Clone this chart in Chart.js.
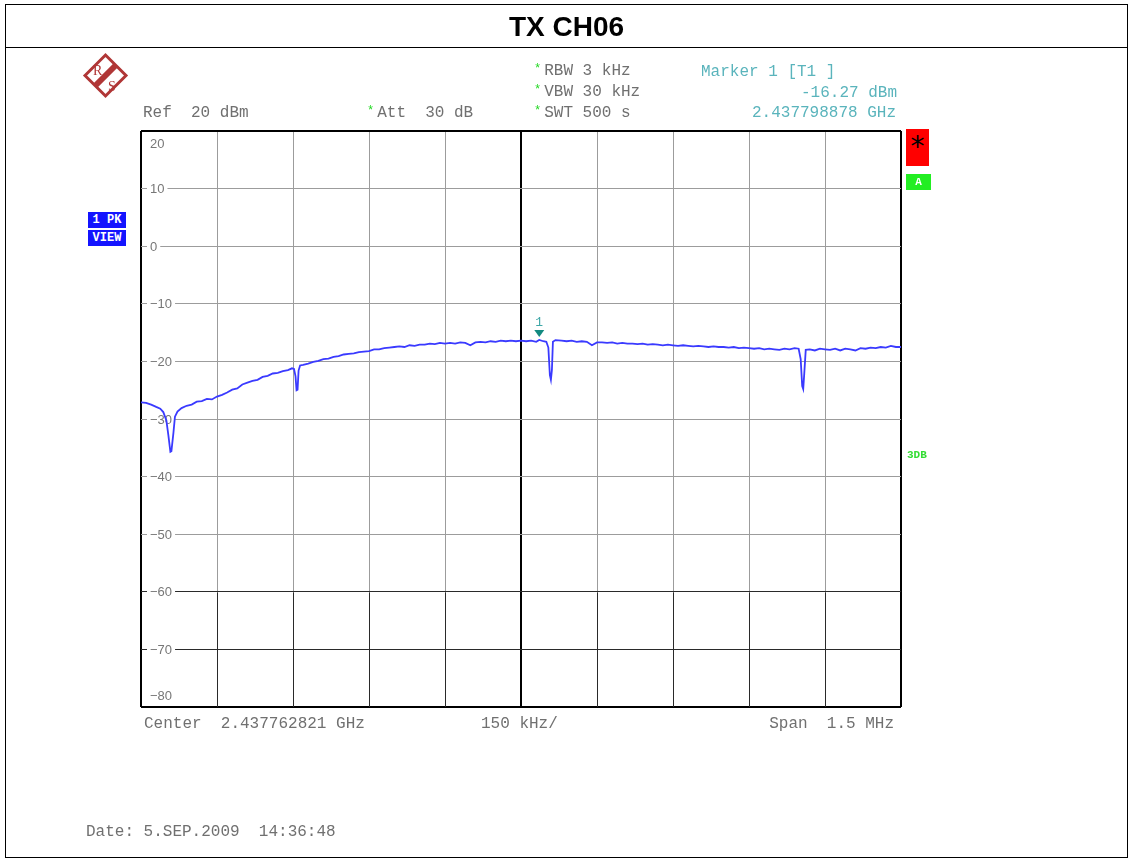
<!DOCTYPE html>
<html>
<head>
<meta charset="utf-8">
<script src="https://cdn.jsdelivr.net/npm/chart.js@4/dist/chart.umd.min.js"></script>
<style>
  html, body { margin: 0; padding: 0; background: #fff; }
  #page { position: relative; width: 1132px; height: 860px; overflow: hidden; }
  #plot { position: absolute; left: 0; top: 0; }
  .frame { position: absolute; left: 5px; top: 4px; width: 1121px; height: 852px; border: 1.5px solid #000; }
  .titlebar { position: absolute; left: 5px; top: 4px; width: 1123px; height: 43px; border-bottom: 1.5px solid #000;
              font: bold 28px "Liberation Sans", Arial, sans-serif; text-align: center; line-height: 46px; }
  .t { position: absolute; font: 16px "Liberation Mono", "Courier New", monospace; color: #707070;
       line-height: 16px; white-space: pre; }
  .star { color: #22d822; font-size: 12px; position: relative; top: -3px; margin-right: 3px; }
  .mk { color: #5ab4bc; }
  .r { text-align: right; }
  .box { position: absolute; background: #1414ff; color: #fff; font: bold 12px "Liberation Mono", monospace;
         line-height: 16px; text-align: center; }
</style>
</head>
<body>
<div id="page">
  <canvas id="plot" width="1132" height="860"></canvas>
  <div class="frame"></div>
  <div class="titlebar">TX CH06</div>

  <svg style="position:absolute;left:80px;top:50px" width="52" height="52" viewBox="80 50 52 52">
    <polygon points="85,75.5 105.5,55 126,75.5 105.5,96" fill="#fff" stroke="#b03636" stroke-width="3"/>
    <line x1="95" y1="86" x2="116" y2="65" stroke="#b03636" stroke-width="6"/>
    <text x="93" y="75" font-family="Liberation Serif, serif" font-size="14" fill="#b03636">R</text>
    <text x="108" y="91" font-family="Liberation Serif, serif" font-size="14" fill="#b03636">S</text>
  </svg>

  <div class="t" style="left:143px;top:105px">Ref  20 dBm</div>
  <div class="t" style="left:367px;top:105px"><span class="star">*</span>Att  30 dB</div>
  <div class="t" style="left:534px;top:63px"><span class="star">*</span>RBW 3 kHz</div>
  <div class="t" style="left:534px;top:84px"><span class="star">*</span>VBW 30 kHz</div>
  <div class="t" style="left:534px;top:105px"><span class="star">*</span>SWT 500 s</div>
  <div class="t mk" style="left:701px;top:64px">Marker 1 [T1 ]</div>
  <div class="t mk r" style="left:700px;width:197px;top:85px">-16.27 dBm</div>
  <div class="t mk r" style="left:700px;width:196px;top:105px">2.437798878 GHz</div>

  <div class="box" style="left:88px;top:212px;width:38px;height:16px">1 PK</div>
  <div class="box" style="left:88px;top:230px;width:38px;height:16px">VIEW</div>

  <div style="position:absolute;left:906px;top:129px;width:23px;height:37px;background:#ff0000;
              font:28px 'DejaVu Sans', sans-serif;text-align:center;line-height:36px;color:#000">*</div>
  <div style="position:absolute;left:906px;top:174px;width:25px;height:16px;background:#22ee22;color:#fff;
              font:bold 11px 'Liberation Mono', monospace;text-align:center;line-height:16px">A</div>
  <div style="position:absolute;left:907px;top:449px;color:#33dd33;font:bold 11px 'Liberation Mono', monospace">3DB</div>

  <div class="t" style="left:144px;top:716px">Center  2.437762821 GHz</div>
  <div class="t" style="left:481px;top:716px">150 kHz/</div>
  <div class="t r" style="left:700px;width:194px;top:716px">Span  1.5 MHz</div>
  <div class="t" style="left:86px;top:824px">Date: 5.SEP.2009  14:36:48</div>
</div>

<script>
// trace: offset from center frequency (kHz) and level (dBm)
const freqKHz = [
  -750, -740, -730, -720, -712, -706, -700, -696, -692, -690, -686, -683, -678, -670, -660, -650,
  -640, -630, -620, -610, -600, -590, -580, -570, -560, -550, -540, -530, -520, -510, -500, -490,
  -480, -470, -460, -452, -448, -445, -443, -441, -439, -436, -430, -420, -410, -400, -390, -380,
  -370, -360, -350, -340, -330, -320, -310, -300, -290, -280, -270, -260, -250, -240, -230, -220,
  -210, -200, -190, -180, -170, -160, -150, -140, -130, -120, -110, -100, -90, -80, -70, -60,
  -50, -40, -30, -20, -10, 0, 10, 20, 30, 36, 44, 50, 54, 57, 59, 61,
  63, 68, 80, 90, 100, 110, 120, 130, 140, 150, 160, 170, 180, 190, 200, 210,
  220, 230, 240, 250, 260, 270, 280, 290, 300, 310, 320, 330, 340, 350, 360, 370,
  380, 390, 400, 410, 420, 430, 440, 450, 460, 470, 480, 490, 500, 510, 520, 530,
  540, 548, 552, 555, 557, 559, 562, 570, 580, 590, 600, 610, 620, 630, 640, 650,
  660, 670, 680, 690, 700, 710, 720, 730, 740, 750
];
const levelDbm = [
  -27.1, -27.2, -27.5, -27.9, -28.2, -28.8, -30.2, -32.8, -35.7, -35.6, -32.4, -29.6, -28.7, -28.1, -27.7, -27.5,
  -27.0, -26.9, -26.5, -26.6, -26.1, -25.8, -25.4, -24.9, -24.7, -24.0, -23.7, -23.4, -23.2, -22.7, -22.5, -22.1,
  -22.0, -21.7, -21.5, -21.2, -21.3, -22.6, -25.0, -24.9, -21.6, -20.7, -20.6, -20.4, -20.1, -19.9, -19.6, -19.5,
  -19.2, -19.1, -18.8, -18.7, -18.6, -18.4, -18.3, -18.2, -17.9, -17.9, -17.7, -17.6, -17.5, -17.4, -17.5, -17.2,
  -17.3, -17.1, -17.1, -16.9, -17.0, -16.8, -16.9, -16.8, -16.9, -16.7, -16.8, -17.2, -16.7, -16.6, -16.7, -16.5,
  -16.6, -16.4, -16.5, -16.4, -16.5, -16.4, -16.5, -16.4, -16.6, -16.27, -16.5, -16.6, -17.6, -22.4, -23.2, -21.5,
  -16.6, -16.3, -16.4, -16.5, -16.4, -16.6, -16.5, -16.6, -17.2, -16.7, -16.7, -16.8, -16.7, -16.9, -16.8, -16.9,
  -16.9, -17.0, -16.9, -17.1, -17.0, -17.1, -17.2, -17.1, -17.2, -17.3, -17.2, -17.3, -17.4, -17.3, -17.4, -17.5,
  -17.4, -17.5, -17.5, -17.6, -17.5, -17.7, -17.6, -17.7, -17.8, -17.7, -17.9, -17.8, -17.9, -18.0, -17.8, -17.9,
  -17.7, -17.8, -19.6, -24.3, -24.8, -22.2, -18.0, -17.9, -18.1, -17.8, -17.9, -18.0, -17.8, -18.1, -17.8, -17.9,
  -18.1, -17.7, -17.8, -17.6, -17.7, -17.5, -17.6, -17.3, -17.5, -17.5
];

// level axis labels, drawn inside the diagram at each division
const levelTicks = [20, 10, 0, -10, -20, -30, -40, -50, -60, -70, -80];
const levelTickLabels = ['20', '10', '0', '\u221210', '\u221220', '\u221230', '\u221240', '\u221250', '\u221260', '\u221270', '\u221280'];

// marker 1
const markerFreqKHz = 36.057;
const markerLevel = -16.27;
const markerLabel = '1';

const spanKHz = 1500;
const divKHz = 150;

const edgeX = v => Math.abs(v) === spanKHz / 2;

// labels with white backdrop + dark lower part of the graticule
const graticule = {
  id: 'graticule',
  beforeDatasetsDraw(chart) {
    const { ctx, chartArea: a, scales: { x, y } } = chart;
    ctx.save();
    // lower graticule section is drawn darker
    ctx.strokeStyle = '#2a2a2a';
    ctx.lineWidth = 1;
    const yTop = Math.round(y.getPixelForValue(-60)) + 0.5;
    for (let f = -spanKHz / 2 + divKHz; f < spanKHz / 2; f += divKHz) {
      if (f === 0) continue;
      const px = Math.round(x.getPixelForValue(f)) + 0.5;
      ctx.beginPath();
      ctx.moveTo(px, yTop);
      ctx.lineTo(px, a.bottom);
      ctx.stroke();
    }
    ctx.font = '13px "Liberation Sans", Arial, sans-serif';
    ctx.textBaseline = 'middle';
    levelTicks.forEach((v, i) => {
      let py = y.getPixelForValue(v);
      py = Math.min(Math.max(py, a.top + 12), a.bottom - 12);
      const txt = levelTickLabels[i];
      const w = ctx.measureText(txt).width;
      const lx = a.left + 9;
      ctx.fillStyle = '#fff';
      ctx.fillRect(lx - 3, py - 7, w + 6, 14);
      ctx.fillStyle = '#777';
      ctx.fillText(txt, lx, py + 1);
    });
    ctx.restore();
  },
  afterDatasetsDraw(chart) {
    const { ctx, scales: { x, y } } = chart;
    const px = x.getPixelForValue(markerFreqKHz);
    const py = y.getPixelForValue(markerLevel);
    ctx.save();
    ctx.fillStyle = '#138a80';
    ctx.beginPath();
    ctx.moveTo(px - 5, py - 10);
    ctx.lineTo(px + 5, py - 10);
    ctx.lineTo(px, py - 3);
    ctx.closePath();
    ctx.fill();
    ctx.fillStyle = '#40a8a8';
    ctx.font = '13px "Liberation Mono", monospace';
    ctx.textAlign = 'center';
    ctx.textBaseline = 'alphabetic';
    ctx.fillText(markerLabel, px, py - 14);
    ctx.restore();
  }
};

new Chart(document.getElementById('plot'), {
  type: 'line',
  data: {
    datasets: [{
      data: freqKHz.map((f, i) => ({ x: f, y: levelDbm[i] })),
      borderColor: '#3a3aff',
      borderWidth: 1.8,
      pointRadius: 0,
      tension: 0
    }]
  },
  options: {
    responsive: false,
    animation: false,
    devicePixelRatio: 1,
    layout: { padding: { left: 141, top: 131, right: 231, bottom: 153 } },
    plugins: { legend: { display: false }, tooltip: { enabled: false } },
    scales: {
      x: {
        type: 'linear',
        min: -spanKHz / 2,
        max: spanKHz / 2,
        ticks: { display: false, stepSize: divKHz },
        border: { display: false },
        grid: {
          drawTicks: false,
          color: c => (c.tick.value === 0 || edgeX(c.tick.value)) ? '#000' : '#9c9c9c',
          lineWidth: c => (c.tick.value === 0 || edgeX(c.tick.value)) ? 2 : 1
        }
      },
      y: {
        min: -80,
        max: 20,
        ticks: { display: false, stepSize: 10 },
        border: { display: false },
        grid: {
          drawTicks: false,
          color: c => (c.tick.value === 20 || c.tick.value === -80) ? '#000'
                    : (c.tick.value <= -60 ? '#2a2a2a' : '#9c9c9c'),
          lineWidth: c => (c.tick.value === 20 || c.tick.value === -80) ? 2 : 1
        }
      }
    }
  },
  plugins: [graticule]
});
</script>
</body>
</html>
